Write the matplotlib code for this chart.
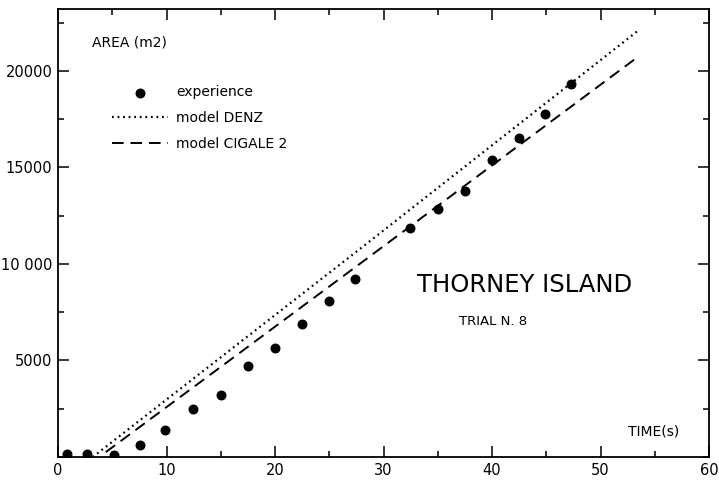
import matplotlib
matplotlib.use("Agg")
import matplotlib.pyplot as plt
from matplotlib.ticker import MultipleLocator

# experience points
exp_t = [0.8, 2.7, 5.2, 7.6, 9.9, 12.4, 15.0, 17.5, 20.0, 22.5, 25.0, 27.4,
         32.4, 35.0, 37.5, 40.0, 42.5, 44.9, 47.3]
exp_area = [150, 150, 120, 600, 1420, 2460, 3190, 4690, 5620, 6870, 8060, 9200,
            11840, 12820, 13800, 15360, 16500, 17750, 19300]

# model curves
denz_t = [3.2, 28.0, 53.4]
denz_area = [0, 10850, 22050]
cigale_t = [4.4, 28.0, 53.4]
cigale_area = [250, 10080, 20700]

ytick_vals = [5000, 10000, 15000, 20000]
ytick_labels = ["5000", "10 000", "15000", "20000"]
xtick_vals = [0, 10, 20, 30, 40, 50, 60]

plt.rcParams['font.family'] = ['DejaVu Sans']

fig = plt.figure(figsize=(7.19, 4.82), dpi=100)
ax = fig.add_axes([58/719, 25/482, 651/719, 448/482])

ax.scatter(exp_t, exp_area, s=38, color="black", zorder=3, label="experience")
ax.plot(denz_t, denz_area, color="black", lw=1.6, linestyle=(0, (0.8, 1.7)),
        label="model DENZ")
ax.plot(cigale_t, cigale_area, color="black", lw=1.4, linestyle=(0, (6, 3.5)),
        label="model CIGALE 2")

ax.set_xlim(0, 60)
ax.set_ylim(0, 23200)
ax.set_xticks(xtick_vals)
ax.set_xticklabels([str(v) for v in xtick_vals])
ax.set_yticks(ytick_vals)
ax.set_yticklabels(ytick_labels)
ax.xaxis.set_minor_locator(MultipleLocator(5))
ax.yaxis.set_minor_locator(MultipleLocator(2500))
ax.tick_params(which="both", direction="in", top=True, right=True,
               labelsize=10.5, width=1.1, pad=4)
ax.tick_params(which="major", length=8)
ax.tick_params(which="minor", length=4)
for s in ax.spines.values():
    s.set_linewidth(1.3)

leg = ax.legend(loc="upper left", bbox_to_anchor=(0.083, 0.83), frameon=False,
                fontsize=10, handlelength=4.0, handletextpad=0.6,
                labelspacing=0.85, borderpad=0, borderaxespad=0,
                scatterpoints=1)

ax.text(0.052, 0.925, "AREA (m2)", transform=ax.transAxes, fontsize=10,
        ha="left", va="center")
ax.text(0.955, 0.058, "TIME(s)", transform=ax.transAxes, fontsize=10,
        ha="right", va="center")
ax.text(0.716, 0.385, "THORNEY ISLAND", transform=ax.transAxes, fontsize=17.5,
        ha="center", va="center")
ax.text(0.668, 0.303, "TRIAL N. 8", transform=ax.transAxes, fontsize=9.5,
        ha="center", va="center")

fig.savefig("out.png", dpi=100)
